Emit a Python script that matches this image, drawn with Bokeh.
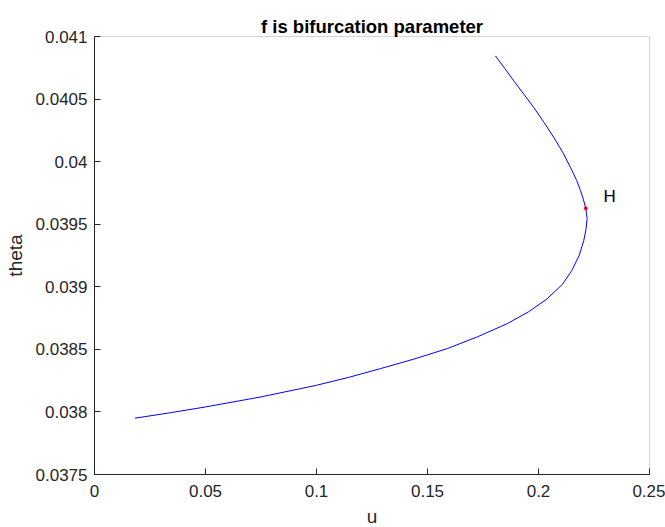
from bokeh.plotting import figure
from bokeh.models import Range1d, FixedTicker, CustomJSTickFormatter, ColumnDataSource
from bokeh.core.properties import value
from bokeh.embed import file_html
from bokeh.resources import INLINE

# ---- data ----
u_vals = [0.0182, 0.034, 0.05, 0.075, 0.1, 0.1145, 0.1288, 0.1435, 0.1589,
          0.1725, 0.1859, 0.1955, 0.2039, 0.2108, 0.2150, 0.2183, 0.2204,
          0.2214, 0.2219, 0.2213, 0.2201, 0.2189, 0.2172, 0.2144, 0.2110,
          0.2069, 0.2025, 0.1979, 0.1934, 0.1889, 0.1848, 0.1806]
theta_vals = [0.03795, 0.037993, 0.03804, 0.03812, 0.038213, 0.038276, 0.038346,
              0.03842, 0.038506, 0.0386, 0.038705, 0.0388, 0.038904, 0.03902,
              0.03913, 0.03925, 0.03937, 0.03946, 0.039545, 0.039627, 0.039705,
              0.03977, 0.03985, 0.039954, 0.040072, 0.040193, 0.040313, 0.040432,
              0.040539, 0.040645, 0.040745, 0.040845]
hopf_u = [0.2213]
hopf_theta = [0.039627]
hopf_label = ["H"]
label_u = [0.2293]
label_theta = [0.03972]

x_ticks = [0, 0.05, 0.1, 0.15, 0.2, 0.25]
x_labels = ["0", "0.05", "0.1", "0.15", "0.2", "0.25"]
y_ticks = [0.0375, 0.038, 0.0385, 0.039, 0.0395, 0.04, 0.0405, 0.041]
y_labels = ["0.0375", "0.038", "0.0385", "0.039", "0.0395", "0.04", "0.0405", "0.041"]

FONT = "Liberation Sans"
AX = "#262626"

p = figure(frame_width=555, frame_height=438, output_backend="svg", toolbar_location=None,
           x_range=Range1d(0, 0.25), y_range=Range1d(0.0375, 0.041),
           min_border_left=94, min_border_right=16, min_border_top=36,
           min_border_bottom=53, title="f is bifurcation parameter",
           background_fill_color="white", border_fill_color="white")

p.title.align = "center"
p.title.text_font = FONT
p.title.text_font_size = "18.5px"
p.title.text_font_style = "bold"
p.title.text_color = "black"
p.title.standoff = 0
p.outline_line_color = "#d4d4d4"
p.xgrid.visible = False
p.ygrid.visible = False

fmt_code = """
let i = 0, b = 1e9;
for (let k = 0; k < tvals.length; k++) {
  const d = Math.abs(tvals[k] - tick);
  if (d < b) { b = d; i = k; }
}
return tlabels[i];
"""
p.xaxis.ticker = FixedTicker(ticks=x_ticks)
p.yaxis.ticker = FixedTicker(ticks=y_ticks)
p.xaxis.formatter = CustomJSTickFormatter(args=dict(tvals=x_ticks, tlabels=x_labels), code=fmt_code)
p.yaxis.formatter = CustomJSTickFormatter(args=dict(tvals=y_ticks, tlabels=y_labels), code=fmt_code)

for ax in (p.xaxis[0], p.yaxis[0]):
    ax.axis_line_color = AX
    ax.major_tick_line_color = AX
    ax.major_tick_in = 6
    ax.major_tick_out = 0
    ax.minor_tick_line_color = None
    ax.major_label_text_font = FONT
    ax.major_label_text_font_size = "17px"
    ax.major_label_text_color = AX
    ax.axis_label_text_font = FONT
    ax.axis_label_text_font_size = "19px"
    ax.axis_label_text_font_style = "normal"
    ax.axis_label_text_color = AX

p.xaxis.axis_label = "u"
p.yaxis.axis_label = "theta"
p.xaxis.major_label_standoff = 10
p.xaxis.axis_label_standoff = 6
p.yaxis.major_label_standoff = 7
p.yaxis.axis_label_standoff = 7

src = ColumnDataSource(dict(u=u_vals, theta=theta_vals))
p.line("u", "theta", source=src, line_color="#0000ff", line_width=1)

p.scatter(hopf_u, hopf_theta, size=3, color="#ff0000", line_color="#ff0000")
p.text(label_u, label_theta, text=hopf_label, text_font=value(FONT),
       text_font_size="17px", text_color="black", text_baseline="middle",
       text_align="left")

html = file_html(p, INLINE)
html = html.replace("</head>", "<style>html,body{overflow:hidden}</style></head>", 1)
open("out.html", "w").write(html)
